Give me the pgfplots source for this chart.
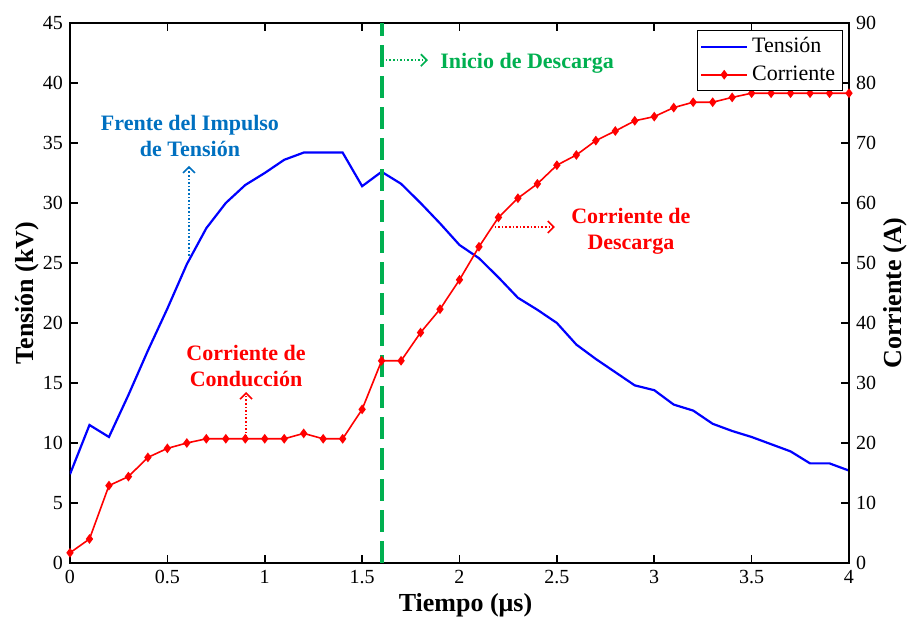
\documentclass[border=0pt]{standalone}
\usepackage{fontspec}
\setmainfont{Liberation Serif}
\usepackage{pgfplots}
\pgfplotsset{compat=1.18}
\usetikzlibrary{arrows.meta}
\definecolor{grn}{RGB}{0,176,80}
\definecolor{annblue}{RGB}{0,112,192}
\begin{document}
\begin{tikzpicture}
\pgfplotsset{
  common/.style={
    scale only axis, width=389.5pt, height=270pt,
    xmin=0, xmax=4,
    tick align=inside,
    major tick length=4pt,
    tick style={black, line width=0.8pt},
    axis line style={line width=1pt},
    ticklabel style={font=\fontsize{10}{12}\selectfont},
    /pgf/number format/assume math mode=true,
  }
}
\begin{axis}[common,
  ymin=0, ymax=45,
  xtick={0,0.5,...,4},
  xticklabels={0,0.5,1,1.5,2,2.5,3,3.5,4},
  ytick={0,5,...,45},
  ytick pos=left, xtick pos=both,
  xlabel={\textbf{Tiempo (μs)}},
  xlabel style={font=\fontsize{13}{15}\selectfont, at={(axis description cs:0.5,0)}, anchor=center, yshift=-21pt, xshift=3pt},
  ylabel={\textbf{Tensión (kV)}},
  ylabel style={font=\fontsize{13}{15}\selectfont, at={(axis description cs:0,0.5)}, anchor=center, yshift=21.5pt},
]
\coordinate (sw) at (rel axis cs:0,0);
\addplot[blue, line width=1.1pt, no marks] coordinates {
(0,7.4) (0.1,11.5) (0.2,10.5) (0.3,14.0) (0.4,17.7) (0.5,21.2) (0.6,24.9) (0.7,27.9) (0.8,30.0) (0.9,31.5) (1.0,32.5) (1.1,33.6) (1.2,34.2) (1.4,34.2) (1.5,31.4) (1.6,32.6) (1.7,31.6) (1.8,30.0) (1.9,28.3) (2.0,26.5) (2.1,25.4) (2.2,23.8) (2.3,22.1) (2.4,21.1) (2.5,20.0) (2.6,18.2) (2.7,17.0) (2.8,15.9) (2.9,14.8) (3.0,14.4) (3.1,13.2) (3.2,12.7) (3.3,11.6) (3.4,11.0) (3.5,10.5) (3.6,9.9) (3.7,9.3) (3.8,8.3) (3.9,8.3) (4.0,7.7)
};
\addplot[grn, line width=2pt, dash pattern=on 11pt off 4.5pt, no marks] coordinates {(1.6,0) (1.6,45)};
% annotations
\node[grn, font=\fontsize{11}{13}\selectfont\bfseries] at (axis cs:2.347,41.67) {Inicio de Descarga};
\draw[grn, densely dotted, line width=0.8pt, -{Straight Barb[length=3pt,width=6pt]}] (axis cs:1.622,41.9) -- (axis cs:1.838,41.9);
\node[annblue, font=\fontsize{11}{13}\selectfont\bfseries, align=center] at (axis cs:0.616,35.6) {Frente del Impulso\\de Tensión};
\draw[annblue, densely dotted, line width=0.8pt, -{Straight Barb[length=3pt,width=6pt]}] (axis cs:0.611,25.6) -- (axis cs:0.611,33.1);
\node[red, font=\fontsize{11}{13}\selectfont\bfseries, align=center] at (axis cs:2.88,27.6) {Corriente de\\Descarga};
\draw[red, densely dotted, line width=0.8pt, -{Straight Barb[length=3pt,width=6pt]}] (axis cs:2.18,28.0) -- (axis cs:2.49,28.0);
\node[red, font=\fontsize{11}{13}\selectfont\bfseries, align=center] at (axis cs:0.904,16.4) {Corriente de\\Conducción};
\draw[red, densely dotted, line width=0.8pt, -{Straight Barb[length=3pt,width=6pt]}] (axis cs:0.904,10.5) -- (axis cs:0.904,14.25);
\end{axis}
\begin{axis}[common,
  ymin=0, ymax=90,
  axis x line=none,
  axis y line*=right,
  ytick={0,10,...,90},
  ylabel={\textbf{Corriente (A)}},
  ylabel style={font=\fontsize{13}{15}\selectfont, at={(axis description cs:1,0.5)}, anchor=center, yshift=-23pt},
  legend style={at={(0.992,0.987)}, anchor=north east, draw=black, line width=0.6pt, font=\fontsize{11}{13}\selectfont, inner sep=1.5pt, row sep=1pt},
  legend cell align=left,
  legend image code/.code={\draw[mark repeat=2,mark phase=2,#1] plot coordinates {(0cm,0cm) (0.4cm,0cm) (0.8cm,0cm)};},
]
\addlegendimage{blue, line width=1.1pt, no marks}
\addlegendentry{Tensión}
\addplot[red, line width=0.8pt, mark=diamond*, mark size=1.8pt, mark options={solid, fill=red}] coordinates {
(0,1.7) (0.1,4.0) (0.2,12.9) (0.3,14.4) (0.4,17.6) (0.5,19.1) (0.6,20.0) (0.7,20.7) (0.8,20.7) (0.9,20.7) (1.0,20.7) (1.1,20.7) (1.2,21.6) (1.3,20.7) (1.4,20.7) (1.5,25.6) (1.6,33.7) (1.7,33.7) (1.8,38.4) (1.9,42.3) (2.0,47.2) (2.1,52.7) (2.2,57.6) (2.3,60.8) (2.4,63.2) (2.5,66.3) (2.6,68.0) (2.7,70.4) (2.8,72.0) (2.9,73.7) (3.0,74.4) (3.1,75.9) (3.2,76.8) (3.3,76.8) (3.4,77.6) (3.5,78.3) (3.6,78.3) (3.7,78.3) (3.8,78.3) (3.9,78.3) (4.0,78.3)
};
\addlegendentry{Corriente}
\end{axis}
\pgfresetboundingbox
\path (sw) ++(-35pt,-28pt) rectangle ++(455.5pt,309.5pt);
\end{tikzpicture}
\end{document}
